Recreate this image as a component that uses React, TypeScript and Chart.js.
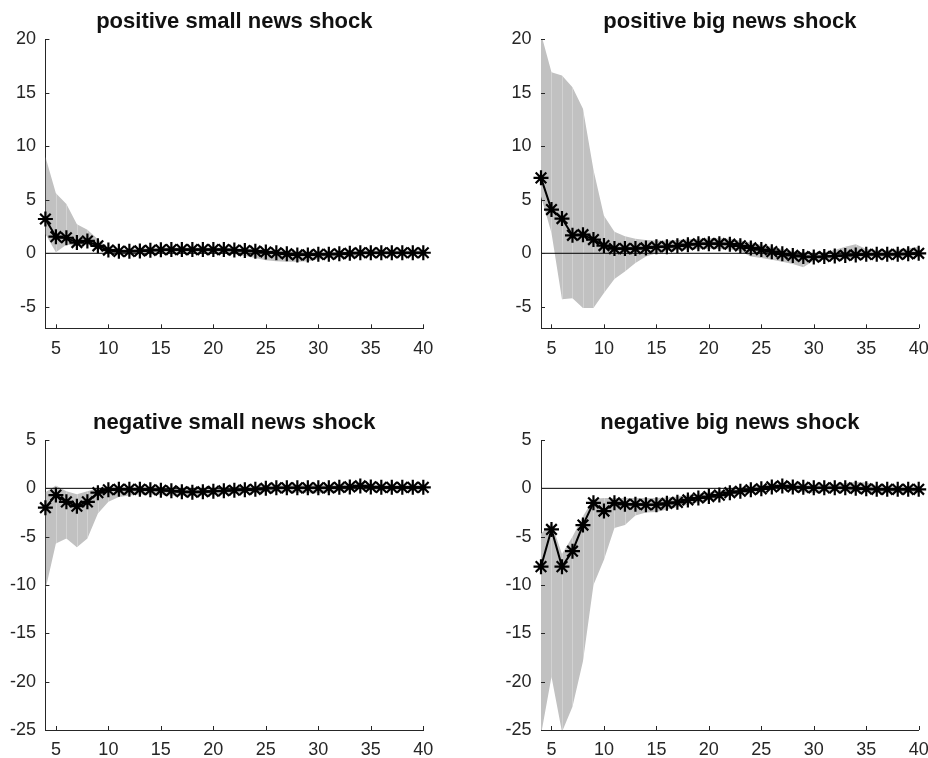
import React, { useEffect, useRef } from "react";
import { Chart, registerables } from "chart.js";

Chart.register(...registerables);

// ---------------- data ----------------
const horizon = [4, 5, 6, 7, 8, 9, 10, 11, 12, 13, 14, 15, 16, 17, 18, 19, 20, 21, 22, 23, 24, 25, 26, 27, 28, 29, 30, 31, 32, 33, 34, 35, 36, 37, 38, 39, 40];
const xTickValues = [5, 10, 15, 20, 25, 30, 35, 40];
const yTicksTop = [-5, 0, 5, 10, 15, 20];
const yTicksBottom = [-25, -20, -15, -10, -5, 0, 5];
const zeroRefX = [4, 40];

const titles = ["positive small news shock", "positive big news shock", "negative small news shock", "negative big news shock"];

// positive small news shock
const posSmallIrf = [3.2, 1.55, 1.45, 1.0, 1.15, 0.7, 0.3, 0.18, 0.18, 0.22, 0.28, 0.33, 0.35, 0.35, 0.35, 0.35, 0.35, 0.35, 0.3, 0.25, 0.2, 0.12, 0.05, -0.05, -0.15, -0.15, -0.1, -0.1, -0.05, 0.0, 0.05, 0.05, 0.05, 0.05, 0.05, 0.05, 0.05];
const posSmallUpper = [9.0, 5.6, 4.6, 2.7, 2.2, 1.3, 0.5, 0.4, 0.4, 0.45, 0.5, 0.55, 0.55, 0.55, 0.55, 0.55, 0.55, 0.55, 0.5, 0.45, 0.4, 0.35, 0.3, 0.2, 0.15, 0.1, 0.1, 0.1, 0.15, 0.2, 0.25, 0.25, 0.25, 0.25, 0.25, 0.25, 0.25];
const posSmallLower = [1.8, 0.1, 0.8, 0.7, 0.8, 0.4, 0.1, 0.0, 0.0, 0.05, 0.1, 0.1, 0.1, 0.1, 0.1, 0.1, 0.05, 0.0, -0.1, -0.25, -0.45, -0.65, -0.75, -0.8, -0.8, -0.75, -0.55, -0.45, -0.35, -0.3, -0.2, -0.15, -0.15, -0.15, -0.15, -0.15, -0.15];

// positive big news shock
const posBigIrf = [7.04, 4.08, 3.24, 1.68, 1.74, 1.28, 0.72, 0.44, 0.44, 0.44, 0.5, 0.6, 0.62, 0.7, 0.8, 0.88, 0.9, 0.9, 0.85, 0.7, 0.5, 0.35, 0.15, -0.05, -0.2, -0.3, -0.35, -0.3, -0.25, -0.2, -0.15, -0.1, -0.1, -0.1, -0.1, -0.05, 0.0];
const posBigUpper = [20.5, 16.9, 16.6, 15.5, 13.5, 7.8, 3.5, 2.0, 1.6, 1.35, 1.25, 1.2, 1.2, 1.25, 1.3, 1.35, 1.4, 1.4, 1.35, 1.2, 1.0, 0.8, 0.6, 0.4, 0.2, 0.1, 0.0, 0.1, 0.3, 0.6, 0.85, 0.4, 0.3, 0.3, 0.35, 0.45, 0.6];
const posBigLower = [5.3, 1.9, -4.3, -4.2, -5.1, -5.1, -3.7, -2.4, -1.7, -0.9, -0.3, 0.0, 0.2, 0.3, 0.35, 0.4, 0.4, 0.4, 0.35, 0.2, -0.3, -0.45, -0.6, -0.8, -1.0, -1.3, -0.7, -0.6, -0.55, -0.5, -0.45, -0.4, -0.35, -0.35, -0.35, -0.3, -0.3];

// negative small news shock
const negSmallIrf = [-2.0, -0.7, -1.4, -1.85, -1.4, -0.45, -0.15, -0.1, -0.1, -0.1, -0.15, -0.2, -0.25, -0.35, -0.4, -0.35, -0.3, -0.25, -0.2, -0.15, -0.1, 0.0, 0.05, 0.05, 0.05, 0.05, 0.05, 0.05, 0.1, 0.15, 0.25, 0.15, 0.1, 0.1, 0.1, 0.1, 0.1];
const negSmallUpper = [-0.4, 0.3, -0.3, -0.6, -0.3, 0.0, 0.1, 0.15, 0.15, 0.15, 0.1, 0.05, 0.0, -0.05, -0.05, 0.0, 0.05, 0.1, 0.1, 0.15, 0.2, 0.3, 0.3, 0.35, 0.35, 0.35, 0.35, 0.35, 0.4, 0.45, 0.5, 0.4, 0.35, 0.35, 0.35, 0.35, 0.35];
const negSmallLower = [-10.5, -5.7, -5.2, -6.1, -5.2, -2.6, -1.4, -0.9, -0.75, -0.65, -0.65, -0.7, -0.75, -0.8, -0.8, -0.75, -0.7, -0.6, -0.55, -0.45, -0.4, -0.35, -0.35, -0.4, -0.45, -0.5, -0.5, -0.45, -0.3, -0.2, -0.1, -0.15, -0.2, -0.2, -0.2, -0.2, -0.2];

// negative big news shock
const negBigIrf = [-8.1, -4.25, -8.1, -6.5, -3.8, -1.5, -2.35, -1.5, -1.65, -1.65, -1.7, -1.7, -1.55, -1.45, -1.2, -1.0, -0.85, -0.7, -0.45, -0.3, -0.15, -0.05, 0.15, 0.25, 0.15, 0.1, 0.05, 0.05, 0.05, 0.05, 0.0, -0.05, -0.1, -0.1, -0.1, -0.1, -0.1];
const negBigUpper = [-4.7, -3.6, -6.8, -5.0, -2.9, -1.1, -1.0, -1.0, -1.0, -1.0, -1.0, -1.0, -0.95, -0.85, -0.7, -0.55, -0.4, -0.25, -0.1, 0.05, 0.15, 0.3, 0.4, 0.5, 0.45, 0.4, 0.35, 0.4, 0.45, 0.55, 0.65, 0.6, 0.3, 0.25, 0.2, 0.2, 0.2];
const negBigLower = [-25.5, -19.5, -25.2, -22.6, -17.9, -10.0, -7.4, -4.1, -3.8, -2.8, -2.5, -2.45, -2.2, -1.95, -1.7, -1.45, -1.2, -0.95, -0.75, -0.55, -0.4, -0.3, -0.15, -0.05, -0.2, -0.4, -0.5, -0.35, -0.3, -0.3, -0.3, -0.35, -0.4, -0.4, -0.4, -0.4, -0.4];

// ---------------- layout / style ----------------
const CANVAS_W = 928;
const CANVAS_H = 758;
const FONT = '"Liberation Sans", Arial, Helvetica, sans-serif';
const AXIS_COLOR = "#262626";
const BAND_COLOR = "rgb(193,193,193)";
const SEAM_COLOR = "rgba(235,235,235,0.4)";

type Panel = {
  title: string;
  irf: number[];
  upper: number[];
  lower: number[];
  yMin: number;
  yMax: number;
  yTicks: number[];
  area: { left: number; right: number; top: number; bottom: number };
};

const panels: Panel[] = [
  { title: titles[0], irf: posSmallIrf, upper: posSmallUpper, lower: posSmallLower, yMin: -7, yMax: 20, yTicks: yTicksTop, area: { left: 45.4, right: 423.3, top: 39, bottom: 328.3 } },
  { title: titles[1], irf: posBigIrf, upper: posBigUpper, lower: posBigLower, yMin: -7, yMax: 20, yTicks: yTicksTop, area: { left: 541, right: 918.7, top: 39, bottom: 328.3 } },
  { title: titles[2], irf: negSmallIrf, upper: negSmallUpper, lower: negSmallLower, yMin: -25, yMax: 5, yTicks: yTicksBottom, area: { left: 45.4, right: 423.3, top: 440, bottom: 730 } },
  { title: titles[3], irf: negBigIrf, upper: negBigUpper, lower: negBigLower, yMin: -25, yMax: 5, yTicks: yTicksBottom, area: { left: 541, right: 918.7, top: 440, bottom: 730 } },
];

const Y_AXIS_W = 45;
const X_AXIS_H = 30;

const toPoints = (ys: number[]) => horizon.map((h, i) => ({ x: h, y: ys[i] }));

function makeChart(canvas: HTMLCanvasElement, p: Panel) {
  const padding = {
    left: p.area.left - Y_AXIS_W,
    right: CANVAS_W - p.area.right,
    top: p.area.top,
    bottom: CANVAS_H - p.area.bottom - X_AXIS_H,
  };

  const decorPlugin = {
    id: "decor" + p.title.replace(/\s/g, ""),
    afterDatasetDraw(chart: any, args: any) {
      // faint seams inside the confidence band (patch rendering look)
      if (args.index !== 3) return;
      const { ctx, chartArea, scales } = chart;
      ctx.save();
      ctx.beginPath();
      ctx.rect(chartArea.left, chartArea.top, chartArea.right - chartArea.left, chartArea.bottom - chartArea.top);
      ctx.clip();
      ctx.beginPath();
      horizon.forEach((h, i) => {
        const px = scales.x.getPixelForValue(h);
        const py = scales.y.getPixelForValue(p.upper[i]);
        if (i === 0) ctx.moveTo(px, py);
        else ctx.lineTo(px, py);
      });
      for (let i = horizon.length - 1; i >= 0; i--) {
        ctx.lineTo(scales.x.getPixelForValue(horizon[i]), scales.y.getPixelForValue(p.lower[i]));
      }
      ctx.closePath();
      ctx.clip();
      ctx.strokeStyle = SEAM_COLOR;
      ctx.lineWidth = 1;
      ctx.beginPath();
      horizon.forEach((h, i) => {
        if (i === 0) return;
        const px = Math.round(scales.x.getPixelForValue(h)) + 0.5;
        ctx.moveTo(px, chartArea.top);
        ctx.lineTo(px, chartArea.bottom);
      });
      ctx.stroke();
      ctx.restore();
    },
    afterDraw(chart: any) {
      const { ctx, chartArea, scales } = chart;
      ctx.save();
      // inward tick marks
      ctx.strokeStyle = AXIS_COLOR;
      ctx.lineWidth = 1;
      ctx.beginPath();
      xTickValues.forEach((v) => {
        const px = Math.round(scales.x.getPixelForValue(v)) + 0.5;
        ctx.moveTo(px, chartArea.bottom);
        ctx.lineTo(px, chartArea.bottom - 4);
      });
      p.yTicks.forEach((v) => {
        const py = Math.round(scales.y.getPixelForValue(v)) + 0.5;
        ctx.moveTo(chartArea.left, py);
        ctx.lineTo(chartArea.left + 4, py);
      });
      ctx.stroke();
      // title
      ctx.fillStyle = "#111111";
      ctx.font = "bold 22px " + FONT;
      ctx.textAlign = "center";
      ctx.textBaseline = "alphabetic";
      ctx.fillText(p.title, (chartArea.left + chartArea.right) / 2, chartArea.top - 10.7);
      ctx.restore();
    },
  };

  return new Chart(canvas, {
    type: "line",
    data: {
      datasets: [
        {
          label: "irf",
          data: toPoints(p.irf),
          borderColor: "#000000",
          borderWidth: 2,
          pointStyle: "star",
          pointRadius: 7.5,
          pointBorderWidth: 2.2,
          pointBorderColor: "#000000",
          pointBackgroundColor: "#000000",
          fill: false,
          tension: 0,
          clip: false as any,
        },
        {
          label: "zero",
          data: zeroRefX.map((x) => ({ x, y: 0 })),
          borderColor: "#000000",
          borderWidth: 1,
          pointRadius: 0,
          fill: false,
        },
        {
          label: "upper",
          data: toPoints(p.upper),
          borderWidth: 0,
          borderColor: "rgba(0,0,0,0)",
          pointRadius: 0,
          fill: false,
        },
        {
          label: "lower",
          data: toPoints(p.lower),
          borderWidth: 0,
          borderColor: "rgba(0,0,0,0)",
          backgroundColor: BAND_COLOR,
          pointRadius: 0,
          fill: "-1",
        },
      ],
    },
    options: {
      responsive: false,
      animation: false,
      events: [],
      layout: { padding, autoPadding: false } as any,
      plugins: {
        legend: { display: false },
        title: { display: false },
        tooltip: { enabled: false },
      },
      scales: {
        x: {
          type: "linear",
          min: 4,
          max: 40,
          grid: { display: false, drawTicks: false },
          border: { display: true, color: AXIS_COLOR, width: 1 },
          ticks: {
            color: AXIS_COLOR,
            font: { family: FONT, size: 18 },
            padding: 9.7,
            maxRotation: 0,
            autoSkip: false,
            callback: (v: any) => String(v),
          },
          afterBuildTicks: (scale: any) => {
            scale.ticks = xTickValues.map((v) => ({ value: v }));
          },
          afterFit: (scale: any) => {
            scale.height = X_AXIS_H;
            scale.paddingLeft = 0;
            scale.paddingRight = 0;
          },
        },
        y: {
          type: "linear",
          min: p.yMin,
          max: p.yMax,
          grid: { display: false, drawTicks: false },
          border: { display: true, color: AXIS_COLOR, width: 1 },
          ticks: {
            color: AXIS_COLOR,
            font: { family: FONT, size: 18 },
            padding: 9.5,
            autoSkip: false,
            callback: (v: any) => String(v),
          },
          afterBuildTicks: (scale: any) => {
            scale.ticks = p.yTicks.map((v) => ({ value: v }));
          },
          afterFit: (scale: any) => {
            scale.width = Y_AXIS_W;
            scale.paddingTop = 0;
            scale.paddingBottom = 0;
          },
        },
      },
    } as any,
    plugins: [decorPlugin],
  });
}

function PanelCanvas({ panel }: { panel: Panel }) {
  const ref = useRef<HTMLCanvasElement | null>(null);
  useEffect(() => {
    if (!ref.current) return;
    const chart = makeChart(ref.current, panel);
    return () => chart.destroy();
  }, [panel]);
  return (
    <canvas
      ref={ref}
      width={CANVAS_W}
      height={CANVAS_H}
      style={{ position: "absolute", left: 0, top: 0, width: CANVAS_W, height: CANVAS_H }}
    />
  );
}

export default function App() {
  return (
    <div style={{ position: "absolute", left: 0, top: 0, width: CANVAS_W, height: CANVAS_H, background: "#ffffff", overflow: "hidden" }}>
      {panels.map((p) => (
        <PanelCanvas key={p.title} panel={p} />
      ))}
    </div>
  );
}
